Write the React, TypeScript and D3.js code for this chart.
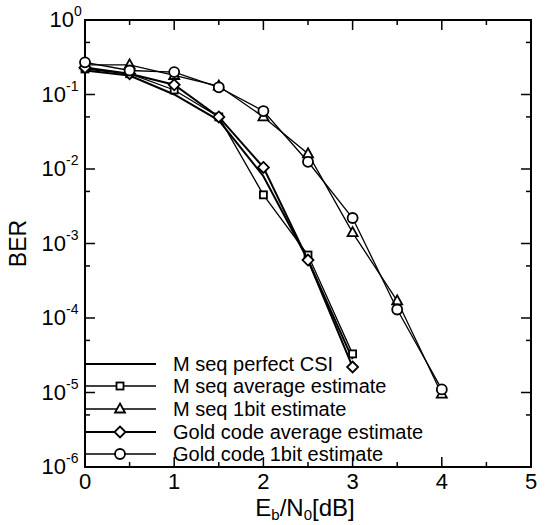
import React from "react";
import * as d3 from "d3";

// Eb/N0 sample points (dB)
const ebn0 = [0, 0.5, 1, 1.5, 2, 2.5, 3, 3.5, 4];

// BER values
const perfectCSI = [0.21, 0.18, 0.1, 0.045, 0.008, 0.0006, 0.000028];
const mSeqAvg = [0.22, 0.19, 0.115, 0.05, 0.0045, 0.0007, 0.000033];
const mSeq1bit = [0.25, 0.25, 0.18, 0.13, 0.05, 0.016, 0.0014, 0.00017, 0.0000095];
const goldAvg = [0.23, 0.19, 0.135, 0.05, 0.0105, 0.0006, 0.000022];
const gold1bit = [0.27, 0.21, 0.2, 0.125, 0.06, 0.0125, 0.0022, 0.00013, 0.000011];

const seriesNames = [
  "M seq perfect CSI",
  "M seq average estimate",
  "M seq 1bit estimate",
  "Gold code average estimate",
  "Gold code 1bit estimate",
];
const xTicks = [0, 1, 2, 3, 4, 5];
const yExps = [0, -1, -2, -3, -4, -5, -6];

const W = 547;
const H = 525;
const font = "'Liberation Sans', Arial, Helvetica, sans-serif";

const x = d3.scaleLinear().domain([0, 5]).range([85, 531]);
const y = d3.scaleLog().domain([1e-6, 1]).range([467, 20]);

type Shape = "none" | "square" | "triangle" | "diamond" | "circle";

const series: { name: string; values: number[]; shape: Shape; width: number }[] = [
  { name: seriesNames[0], values: perfectCSI, shape: "none", width: 2 },
  { name: seriesNames[1], values: mSeqAvg, shape: "square", width: 1.3 },
  { name: seriesNames[2], values: mSeq1bit, shape: "triangle", width: 1.3 },
  { name: seriesNames[3], values: goldAvg, shape: "diamond", width: 2 },
  { name: seriesNames[4], values: gold1bit, shape: "circle", width: 1.3 },
];

function Marker({ shape, cx, cy }: { shape: Shape; cx: number; cy: number }) {
  const st = { fill: "#fff", stroke: "#000", strokeWidth: 1.8 };
  if (shape === "square") return <rect x={cx - 3.5} y={cy - 3.5} width={7} height={7} {...st} />;
  if (shape === "triangle")
    return <path d={`M${cx},${cy - 5.5}L${cx + 5},${cy + 3.5}L${cx - 5},${cy + 3.5}Z`} {...st} />;
  if (shape === "diamond")
    return <path d={`M${cx},${cy - 5.5}L${cx + 5.5},${cy}L${cx},${cy + 5.5}L${cx - 5.5},${cy}Z`} {...st} />;
  if (shape === "circle") return <circle cx={cx} cy={cy} r={5} {...st} />;
  return null;
}

export default function App() {
  const line = d3
    .line<number>()
    .x((_, i) => x(ebn0[i]))
    .y((d) => y(d));

  const x0 = x.range()[0], x1 = x.range()[1];
  const y0 = y.range()[0], y1 = y.range()[1];

  const xMinor = d3.range(0.5, 5, 1);
  const yMinor = d3.range(-6, 0).map((e) => 5 * Math.pow(10, e));

  const legendY = [364, 386, 409, 432, 454];

  return (
    <svg width={W} height={H} style={{ position: "absolute", left: 0, top: 0, background: "#fff" }} fontFamily={font}>
      {/* frame */}
      <rect x={x0} y={y1} width={x1 - x0} height={y0 - y1} fill="none" stroke="#000" strokeWidth={2} />

      {/* x ticks, inward on bottom and top */}
      {xTicks.map((t) => (
        <g key={"xt" + t}>
          <line x1={x(t)} x2={x(t)} y1={y0} y2={y0 - 10} stroke="#000" strokeWidth={1.5} />
          <line x1={x(t)} x2={x(t)} y1={y1} y2={y1 + 10} stroke="#000" strokeWidth={1.5} />
          <text x={x(t)} y={489} textAnchor="middle" fontSize={22}>{t}</text>
        </g>
      ))}
      {xMinor.map((t) => (
        <g key={"xm" + t}>
          <line x1={x(t)} x2={x(t)} y1={y0} y2={y0 - 5} stroke="#000" strokeWidth={1.5} />
          <line x1={x(t)} x2={x(t)} y1={y1} y2={y1 + 5} stroke="#000" strokeWidth={1.5} />
        </g>
      ))}

      {/* y ticks */}
      {yExps.map((e) => {
        const yy = y(Math.pow(10, e));
        const ex = e === 0 ? 74 : 66;
        return (
          <g key={"yt" + e}>
            <line x1={x0} x2={x0 + 10} y1={yy} y2={yy} stroke="#000" strokeWidth={1.5} />
            <line x1={x1} x2={x1 - 10} y1={yy} y2={yy} stroke="#000" strokeWidth={1.5} />
            <text x={ex} y={yy + 7} textAnchor="end" fontSize={22}>10</text>
            <text x={ex} y={yy - 4} fontSize={14}>{e}</text>
          </g>
        );
      })}
      {yMinor.map((v, i) => (
        <g key={"ym" + i}>
          <line x1={x0} x2={x0 + 5} y1={y(v)} y2={y(v)} stroke="#000" strokeWidth={1.5} />
          <line x1={x1} x2={x1 - 5} y1={y(v)} y2={y(v)} stroke="#000" strokeWidth={1.5} />
        </g>
      ))}

      {/* axis titles */}
      <text transform={`translate(26,${(y0 + y1) / 2}) rotate(-90)`} textAnchor="middle" fontSize={23}>BER</text>
      <text x={305} y={516} textAnchor="middle" fontSize={24}>
        E<tspan fontSize={15} dy={4}>b</tspan>
        <tspan dy={-4}>/N</tspan>
        <tspan fontSize={15} dy={4}>0</tspan>
        <tspan dy={-4}>[dB]</tspan>
      </text>

      {/* curves */}
      {series.map((s) => (
        <g key={s.name}>
          <path d={line(s.values) || ""} fill="none" stroke="#000" strokeWidth={s.width} />
          {s.values.map((v, i) => (
            <Marker key={i} shape={s.shape} cx={x(ebn0[i])} cy={y(v)} />
          ))}
        </g>
      ))}

      {/* legend */}
      {series.map((s, i) => (
        <g key={"lg" + s.name}>
          <line x1={86} x2={156} y1={legendY[i]} y2={legendY[i]} stroke="#000" strokeWidth={s.width} />
          <Marker shape={s.shape} cx={120} cy={legendY[i]} />
          <text x={173} y={legendY[i] + 7} fontSize={20}>{s.name}</text>
        </g>
      ))}
    </svg>
  );
}
